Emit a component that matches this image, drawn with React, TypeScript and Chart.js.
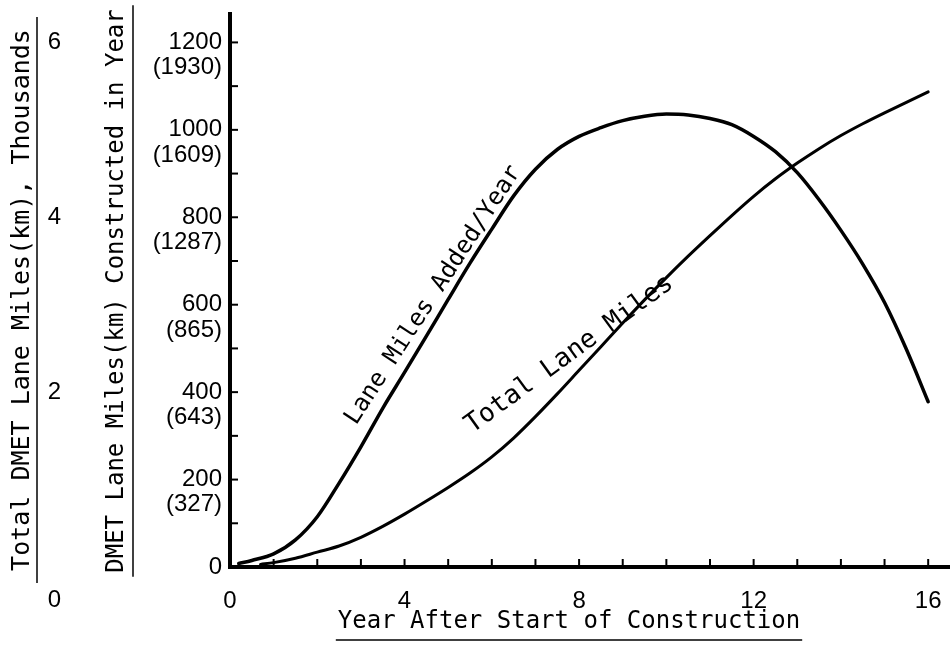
import React, { useEffect, useRef } from 'react';
import { Chart, registerables } from 'chart.js';

Chart.register(...registerables);

// ---- data ----
const years = [0.2, 0.5, 1, 1.5, 2, 2.5, 3, 3.5, 4, 4.5, 5, 5.5, 6, 6.5, 7, 7.5, 8, 8.5, 9, 9.5, 10, 10.5, 11, 11.5, 12, 12.5, 13, 13.5, 14, 14.5, 15, 15.5, 16];
const addedPerYear = [8, 15, 30, 62, 115, 192, 275, 363, 445, 528, 612, 695, 773, 849, 910, 955, 985, 1005, 1021, 1031, 1036, 1034, 1026, 1012, 985, 950, 902, 840, 770, 693, 605, 498, 378];

const totalYears = [0.7, 1, 1.5, 2, 2.5, 3, 3.5, 4, 4.5, 5, 5.5, 6, 6.5, 7, 7.5, 8, 8.5, 9, 9.5, 10, 10.5, 11, 11.5, 12, 12.5, 13, 13.5, 14, 14.5, 15, 15.5, 16];
const totalThousands = [0.03, 0.05, 0.1, 0.17, 0.24, 0.34, 0.465, 0.605, 0.755, 0.91, 1.075, 1.26, 1.475, 1.72, 1.98, 2.25, 2.52, 2.79, 3.055, 3.31, 3.555, 3.79, 4.02, 4.24, 4.44, 4.62, 4.785, 4.935, 5.07, 5.195, 5.315, 5.435];

const xLabelEvery = 4;
const yTickMiles = [200, 400, 600, 800, 1000, 1200];
const yTickKm = ['(327)', '(643)', '(865)', '(1287)', '(1609)', '(1930)'];
const outerTickLabels = [0, 2, 4, 6];

const xTitle = 'Year After Start of Construction';
const yTitle = 'DMET Lane Miles(km) Constructed in Year';
const y2Title = 'Total DMET Lane Miles(km), Thousands';
const addedLabel = 'Lane Miles Added/Year';
const totalLabel = 'Total Lane Miles';

const X_MAX = 16.5;
const Y_MAX = 1265;
const MILES_PER_THOUSAND_UNIT = 200;

const MONO = '"DejaVu Sans Mono", "Liberation Mono", monospace';
const SANS = '"Liberation Sans", Arial, sans-serif';

const decorPlugin = {
  id: 'decor',
  afterDraw(chart: any) {
    const { ctx, chartArea, scales } = chart;
    const xs = scales.x;
    const ys = scales.y;
    const y2s = scales.y2;
    ctx.save();
    ctx.strokeStyle = '#000';
    ctx.fillStyle = '#000';

    // inward tick marks
    ctx.lineWidth = 2;
    xs.ticks.forEach((t: any) => {
      if (t.value === 0) return;
      const px = xs.getPixelForValue(t.value);
      ctx.beginPath();
      ctx.moveTo(px, chartArea.bottom - 2);
      ctx.lineTo(px, chartArea.bottom - 8);
      ctx.stroke();
    });
    ys.ticks.forEach((t: any) => {
      if (t.value === 0) return;
      const py = ys.getPixelForValue(t.value);
      ctx.beginPath();
      ctx.moveTo(chartArea.left + 2, py);
      ctx.lineTo(chartArea.left + 8, py);
      ctx.stroke();
    });

    // titles with underlines
    ctx.textAlign = 'center';
    ctx.textBaseline = 'middle';
    ctx.lineWidth = 1.5;

    ctx.font = `24px ${MONO}`;
    const xw = ctx.measureText(xTitle).width;
    const xcx = 569, xcy = 622;
    ctx.fillText(xTitle, xcx, xcy);
    ctx.beginPath();
    ctx.moveTo(xcx - xw / 2 - 2, 640);
    ctx.lineTo(xcx + xw / 2 + 2, 640);
    ctx.stroke();

    const rotTitle = (text: string, cx: number, cy: number, size: number, off: number, extra: number) => {
      ctx.save();
      ctx.translate(cx, cy);
      ctx.rotate(-Math.PI / 2);
      ctx.font = `${size}px ${MONO}`;
      const w = ctx.measureText(text).width;
      ctx.fillText(text, 0, 0);
      ctx.beginPath();
      ctx.moveTo(-w / 2 - extra, off);
      ctx.lineTo(w / 2 + extra, off);
      ctx.stroke();
      ctx.restore();
    };
    rotTitle(y2Title, 22, 300, 25, 15, 12);
    rotTitle(yTitle, 117, 291, 24, 16, 4);

    // curve labels
    const rotLabel = (text: string, px: number, py: number, deg: number, size: number) => {
      ctx.save();
      ctx.translate(px, py);
      ctx.rotate((deg * Math.PI) / 180);
      ctx.font = `${size}px ${MONO}`;
      ctx.fillText(text, 0, 0);
      ctx.restore();
    };
    rotLabel(addedLabel, xs.getPixelForValue(4.66), ys.getPixelForValue(622), -57, 24);
    rotLabel(totalLabel, xs.getPixelForValue(7.78), y2s.getPixelForValue(2.43), -36, 26);

    ctx.restore();
  },
};

export default function App() {
  const ref = useRef<HTMLCanvasElement>(null);
  useEffect(() => {
    document.body.style.margin = '0';
    const tickFont = { family: SANS, size: 24, lineHeight: 1.05 };
    const chart = new Chart(ref.current as HTMLCanvasElement, {
      type: 'line',
      data: {
        datasets: [
          {
            label: addedLabel,
            data: years.map((x, i) => ({ x, y: addedPerYear[i] })),
            yAxisID: 'y',
            borderColor: '#000',
            borderWidth: 3.5,
            pointRadius: 0,
            cubicInterpolationMode: 'monotone',
            borderCapStyle: 'round',
            fill: false,
          },
          {
            label: totalLabel,
            data: totalYears.map((x, i) => ({ x, y: totalThousands[i] })),
            yAxisID: 'y2',
            borderColor: '#000',
            borderWidth: 3,
            pointRadius: 0,
            cubicInterpolationMode: 'monotone',
            borderCapStyle: 'round',
            fill: false,
          },
        ],
      },
      options: {
        animation: false,
        responsive: true,
        maintainAspectRatio: false,
        layout: { padding: { top: 14, left: 0, right: 0, bottom: 0 }, autoPadding: false },
        plugins: { legend: { display: false }, tooltip: { enabled: false } },
        events: [],
        scales: {
          x: {
            type: 'linear',
            min: 0,
            max: X_MAX,
            border: { display: true, color: '#000', width: 4 },
            grid: { drawOnChartArea: false, drawTicks: false },
            ticks: {
              stepSize: 1,
              includeBounds: false,
              autoSkip: false,
              maxRotation: 0,
              padding: 20,
              color: '#000',
              font: { family: SANS, size: 24, lineHeight: 1.2 },
              callback: (v: any) => (Number(v) % xLabelEvery === 0 ? String(v) : ''),
            },
            afterFit: (s: any) => {
              s.height = 92;
              s.paddingLeft = 0;
              s.paddingRight = 0;
            },
          },
          y: {
            type: 'linear',
            position: 'left',
            weight: 0,
            min: 0,
            max: Y_MAX,
            border: { display: true, color: '#000', width: 4 },
            grid: { drawOnChartArea: false, drawTicks: false },
            ticks: {
              stepSize: 100,
              includeBounds: false,
              autoSkip: false,
              padding: 8,
              color: '#000',
              font: tickFont,
              callback: (v: any) => {
                const n = Number(v);
                if (n === 0) return '0';
                const i = yTickMiles.indexOf(n);
                return i >= 0 ? ['', String(n), yTickKm[i]] : '';
              },
            },
            afterFit: (s: any) => {
              s.width = 130;
              s.paddingTop = 0;
              s.paddingBottom = 0;
            },
          },
          y2: {
            type: 'linear',
            position: 'left',
            weight: 1,
            min: 0,
            max: Y_MAX / MILES_PER_THOUSAND_UNIT,
            border: { display: false },
            grid: { display: false, drawOnChartArea: false, drawTicks: false },
            ticks: {
              stepSize: 2,
              includeBounds: false,
              autoSkip: false,
              padding: 39,
              color: '#000',
              font: { family: SANS, size: 24, lineHeight: 1.4 },
              callback: (v: any) => {
                const n = Number(v);
                if (outerTickLabels.indexOf(n) < 0) return '';
                return n === 0 ? ['', '', '0'] : String(n);
              },
            },
            afterFit: (s: any) => {
              s.width = 100;
              s.paddingTop = 0;
              s.paddingBottom = 0;
            },
          },
        },
      } as any,
      plugins: [decorPlugin],
    });
    return () => chart.destroy();
  }, []);
  return (
    <div style={{ width: 950, height: 659, position: 'relative', background: '#fff' }}>
      <canvas ref={ref} />
    </div>
  );
}
